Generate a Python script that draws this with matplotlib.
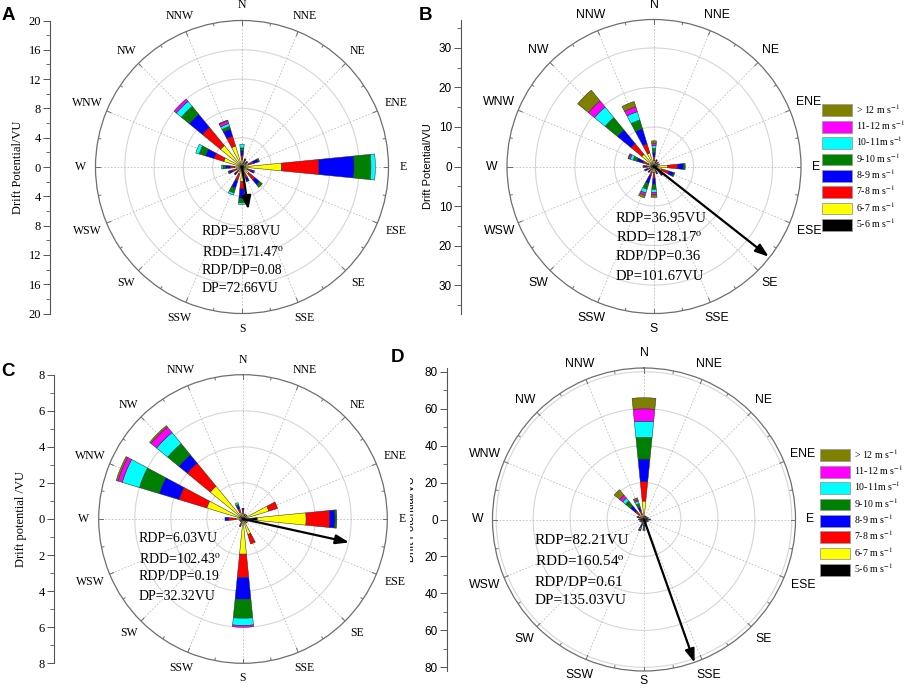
import numpy as np
import matplotlib
matplotlib.use('Agg')
import matplotlib.pyplot as plt
from matplotlib.patches import Patch
from matplotlib.transforms import Bbox

plt.rcParams['mathtext.fontset'] = 'stix'

SERIF = 'Liberation Serif'
SANS = 'Liberation Sans'
W, H = 906, 688

directions = ['N', 'NNE', 'NE', 'ENE', 'E', 'ESE', 'SE', 'SSE',
              'S', 'SSW', 'SW', 'WSW', 'W', 'WNW', 'NW', 'NNW']
classes = ['5-6 m s$^{-1}$', '6-7 m s$^{-1}$', '7-8 m s$^{-1}$', '8-9 m s$^{-1}$',
           '9-10 m s$^{-1}$', '10-11m s$^{-1}$', '11-12 m s$^{-1}$', '> 12 m s$^{-1}$']
class_colors = ['#000000', '#ffff00', '#ff0000', '#0000ff',
                '#008000', '#00ffff', '#ff00ff', '#808000']

# cumulative drift potential (VU) at the outer edge of each speed class,
# one row per direction, columns follow `classes`
dp_a = [[0.3, 1.0, 1.6, 2.2, 2.6, 3.1, 3.1, 3.1],
        [0.3, 0.6, 0.9, 1.1, 1.2, 1.2, 1.2, 1.2],
        [0.3, 0.6, 0.8, 1.0, 1.0, 1.0, 1.0, 1.0],
        [0.3, 0.9, 1.6, 2.3, 2.5, 2.5, 2.5, 2.5],
        [0.5, 5.4, 10.5, 15.3, 17.6, 18.2, 18.2, 18.2],
        [0.3, 0.8, 1.3, 1.7, 1.8, 1.8, 1.8, 1.8],
        [0.3, 1.2, 2.3, 3.1, 3.6, 3.6, 3.6, 3.6],
        [0.3, 0.8, 1.5, 2.0, 2.1, 2.1, 2.1, 2.1],
        [0.3, 2.0, 3.0, 4.3, 4.9, 5.1, 5.1, 5.1],
        [0.3, 1.0, 2.0, 3.0, 3.7, 4.0, 4.0, 4.0],
        [0.3, 0.7, 1.1, 1.4, 1.4, 1.4, 1.4, 1.4],
        [0.3, 0.8, 1.4, 1.8, 2.0, 2.0, 2.0, 2.0],
        [0.3, 1.0, 1.6, 2.2, 2.6, 2.8, 2.8, 2.8],
        [0.3, 2.6, 4.0, 5.2, 6.1, 6.6, 6.6, 6.6],
        [0.3, 3.8, 7.0, 9.3, 10.7, 11.6, 12.0, 12.0],
        [0.3, 3.0, 4.4, 5.4, 5.8, 6.2, 6.6, 6.7]]

dp_b = [[0.5, 1.5, 2.5, 3.5, 4.5, 5.3, 5.8, 6.5],
        [0.5, 1.0, 1.5, 1.8, 1.8, 1.8, 1.8, 1.8],
        [0.5, 1.0, 1.5, 1.5, 1.5, 1.5, 1.5, 1.5],
        [0.5, 1.0, 1.5, 1.5, 1.5, 1.5, 1.5, 1.5],
        [0.5, 3.5, 6.0, 7.4, 7.9, 7.9, 7.9, 7.9],
        [0.5, 2.0, 4.0, 5.2, 5.5, 5.5, 5.5, 5.5],
        [0.5, 1.5, 2.5, 3.0, 3.0, 3.0, 3.0, 3.0],
        [0.5, 1.0, 1.5, 2.0, 2.0, 2.0, 2.0, 2.0],
        [0.5, 1.5, 3.0, 4.5, 5.8, 6.6, 7.2, 7.8],
        [0.5, 1.5, 2.5, 4.5, 6.0, 7.0, 7.6, 8.3],
        [0.5, 1.0, 1.5, 2.0, 2.0, 2.0, 2.0, 2.0],
        [0.5, 1.2, 1.8, 2.3, 2.5, 2.5, 2.5, 2.5],
        [0.5, 1.5, 2.0, 2.5, 2.8, 2.8, 2.8, 2.8],
        [0.5, 1.5, 3.0, 4.5, 5.5, 6.3, 6.7, 6.9],
        [0.5, 4.0, 7.5, 12.0, 16.0, 19.5, 21.5, 25.0],
        [0.5, 3.6, 6.0, 10.0, 12.3, 14.5, 15.8, 17.2]]

dp_c = [[0.1, 0.3, 0.5, 0.6, 0.6, 0.6, 0.6, 0.6],
        [0.1, 0.2, 0.3, 0.3, 0.3, 0.3, 0.3, 0.3],
        [0.1, 0.2, 0.3, 0.3, 0.3, 0.3, 0.3, 0.3],
        [0.1, 1.5, 2.0, 2.0, 2.0, 2.0, 2.0, 2.0],
        [0.8, 3.5, 4.8, 5.1, 5.2, 5.2, 5.2, 5.2],
        [0.1, 0.2, 0.3, 0.3, 0.3, 0.3, 0.3, 0.3],
        [0.1, 0.2, 0.3, 0.3, 0.3, 0.3, 0.3, 0.3],
        [0.1, 0.9, 1.45, 1.45, 1.45, 1.45, 1.45, 1.45],
        [0.1, 1.95, 3.25, 4.45, 5.5, 5.9, 6.0, 6.0],
        [0.1, 0.2, 0.35, 0.45, 0.45, 0.45, 0.45, 0.45],
        [0.1, 0.15, 0.2, 0.2, 0.2, 0.2, 0.2, 0.2],
        [0.1, 0.15, 0.2, 0.2, 0.2, 0.2, 0.2, 0.2],
        [0.1, 0.4, 0.8, 1.0, 1.0, 1.0, 1.0, 1.0],
        [0.2, 2.1, 3.7, 4.85, 6.0, 7.0, 7.25, 7.35],
        [0.2, 2.35, 4.0, 4.6, 5.4, 6.2, 6.6, 6.7],
        [0.1, 0.4, 0.6, 0.75, 0.85, 0.95, 0.95, 0.95]]

dp_d = [[1.8, 10.0, 20.5, 32.7, 44.5, 53.2, 59.9, 65.9],
        [1.0, 1.5, 2.0, 2.0, 2.0, 2.0, 2.0, 2.0],
        [1.0, 1.5, 2.0, 2.0, 2.0, 2.0, 2.0, 2.0],
        [1.0, 1.5, 2.0, 2.5, 2.5, 2.5, 2.5, 2.5],
        [1.0, 2.0, 3.0, 3.5, 3.5, 3.5, 3.5, 3.5],
        [1.0, 1.5, 2.0, 2.5, 2.5, 2.5, 2.5, 2.5],
        [1.0, 1.5, 2.0, 2.0, 2.0, 2.0, 2.0, 2.0],
        [1.0, 1.5, 2.0, 2.5, 2.5, 2.5, 2.5, 2.5],
        [1.0, 2.0, 3.0, 4.0, 5.0, 5.5, 6.0, 6.0],
        [1.0, 2.0, 3.0, 4.0, 5.0, 5.7, 6.2, 6.5],
        [1.0, 1.5, 2.0, 2.0, 2.0, 2.0, 2.0, 2.0],
        [1.0, 1.5, 2.0, 2.5, 2.5, 2.5, 2.5, 2.5],
        [1.0, 1.5, 2.0, 2.5, 3.0, 3.0, 3.0, 3.0],
        [1.0, 1.5, 2.5, 3.5, 4.0, 4.0, 4.0, 4.0],
        [1.0, 3.5, 6.0, 9.5, 13.0, 15.0, 17.0, 20.9],
        [1.0, 3.0, 5.0, 7.0, 9.0, 10.5, 11.3, 12.3]]

rdp = [5.88, 36.95, 6.03, 82.21]
rdd = [171.47, 128.17, 102.43, 160.54]
rdp_dp = [0.08, 0.36, 0.19, 0.61]
dp_total = [72.66, 101.67, 32.32, 135.03]

panels = [
    dict(data=dp_a, letter='A', center=(242, 167), rpx=146.5, rmax=20, rings=[4, 8, 12, 16],
         step=4, minor=2, axis_x=50, font=SERIF, dsize=8.5, tsize=9,
         ylabel='Drift Potential/VU', ylabel_x=18, letter_xy=(8, 15),
         note_x=202, note_y=[232, 252, 271, 289], note_size=10, legend=None),
    dict(data=dp_b, letter='B', center=(654, 166.5), rpx=147, rmax=37.2, rings=[10, 20, 30],
         step=10, minor=5, axis_x=461, font=SANS, dsize=8.8, tsize=8.5,
         ylabel='Drift Potential/VU', ylabel_x=428, letter_xy=(426, 15),
         note_x=616, note_y=[218, 238, 257, 276], note_size=10.5, legend=(822, 102)),
    dict(data=dp_c, letter='C', center=(243, 519), rpx=144.3, rmax=8, rings=[2, 4, 6],
         step=2, minor=1, axis_x=54, font=SERIF, dsize=8.5, tsize=9,
         ylabel='Drift potential /VU', ylabel_x=21, letter_xy=(8, 372),
         note_x=139, note_y=[538, 559, 577, 596], note_size=10, legend=None),
    dict(data=dp_d, letter='D', center=(644, 519.5), rpx=151.5, rmax=82, rings=[20, 40, 60, 80],
         step=20, minor=10, axis_x=447, font=SANS, dsize=8.8, tsize=8.5,
         ylabel='Drift Potential/VU', ylabel_x=411, letter_xy=(398, 357),
         note_x=535, note_y=[541, 562, 582, 601], note_size=11, legend=(820, 447)),
]

fig = plt.figure(figsize=(W / 100, H / 100), dpi=100)


def fx(x):
    return x / W


def fy(y):
    return 1 - y / H


def draw_panel(k, p):
    cx, cy = p['center']
    rpx, rmax = p['rpx'], p['rmax']
    ax = fig.add_axes([fx(cx - rpx), fy(cy + rpx), 2 * rpx / W, 2 * rpx / H], projection='polar')
    ax.set_theta_zero_location('N')
    ax.set_theta_direction(-1)
    ax.set_ylim(0, rmax)
    ax.set_xticks([])
    ax.set_yticks([])
    ax.grid(False)
    ax.patch.set_alpha(0)
    ax.spines['polar'].set_color('#6e6e6e')
    ax.spines['polar'].set_linewidth(0.9)

    # rings, dotted spokes and the small ticks on the rim
    th = np.linspace(0, 2 * np.pi, 400)
    for r in p['rings']:
        ax.plot(th, np.full_like(th, r), color='#d6d6d6', lw=0.8, zorder=1)
    ang = np.deg2rad(np.arange(16) * 22.5)
    for a in ang:
        ax.plot([a, a], [0, rmax], color='#bdbdbd', lw=0.6, ls=(0, (2, 2)), zorder=1)
    per_px = rmax / rpx
    for i in range(32):
        a = np.deg2rad(i * 11.25)
        L = 4.5 if i % 2 == 0 else 2.5
        ax.plot([a, a], [rmax - L * per_px, rmax], color='#6e6e6e', lw=0.7, zorder=2)

    # stacked speed classes
    cum = np.array(p['data'])
    bottom = np.zeros(16)
    for j in range(len(classes)):
        height = cum[:, j] - bottom
        keep = height > 1e-9
        ax.bar(ang[keep], height[keep], width=np.pi / 16, bottom=bottom[keep],
               color=class_colors[j], edgecolor='#2a2a2a', linewidth=0.35, zorder=3)
        bottom = cum[:, j]

    # resultant drift arrow
    ax.annotate('', xy=(np.deg2rad(rdd[k]), rdp[k]), xytext=(0, 0),
                arrowprops=dict(arrowstyle='-|>,head_length=0.8,head_width=0.28',
                                color='k', lw=1.6, shrinkA=0, shrinkB=0),
                annotation_clip=False, zorder=6)

    for i, name in enumerate(directions):
        a = ang[i]
        d = 15 + 3 * (len(name) - 1) * abs(np.sin(a))
        # keep the bottom label inside the figure
        if np.cos(a) < -0.99:
            d = min(d, H - 7 - cy - rpx)
        ax.text(a, rmax * (1 + d / rpx), name, ha='center', va='center',
                family=p['font'], fontsize=p['dsize'], clip_on=False)

    # vertical drift potential scale
    sx = fig.add_axes([fx(p['axis_x']), fy(cy + rpx), 0.0001, 2 * rpx / H])
    sx.set_ylim(-rmax, rmax)
    sx.patch.set_alpha(0)
    for s in ['top', 'right', 'bottom']:
        sx.spines[s].set_visible(False)
    sx.spines['left'].set_color('#555555')
    sx.spines['left'].set_linewidth(0.8)
    sx.set_xticks([])
    n = int(rmax // p['step'])
    major = np.arange(-n, n + 1) * p['step']
    m = int(rmax // p['minor'])
    minor = np.arange(-m, m + 1) * p['minor']
    sx.set_yticks(major)
    sx.set_yticklabels([f'{abs(v):g}' for v in major], family=p['font'], fontsize=p['tsize'])
    sx.set_yticks(minor, minor=True)
    sx.tick_params(axis='y', which='major', length=5, width=0.7, color='#555555', pad=1.5)
    sx.tick_params(axis='y', which='minor', length=3, width=0.6, color='#555555')

    yl = fig.text(fx(p['ylabel_x']), fy(cy), p['ylabel'], rotation=90,
                  ha='center', va='center', family=p['font'],
                  fontsize=9 if p['font'] == SERIF else 8)
    if k == 3:
        # in the original this label is half hidden behind panel C
        yl.set_clip_box(Bbox.from_extents(409.5, 0, W, H))
        yl.set_clip_on(True)

    fig.text(fx(p['letter_xy'][0]), fy(p['letter_xy'][1]), p['letter'], ha='center', va='center',
             family=SANS, fontweight='bold', fontsize=13.5)

    notes = [f'RDP={rdp[k]:.2f}VU', f'RDD={rdd[k]:.2f}$^{{\\rm o}}$',
             f'RDP/DP={rdp_dp[k]:.2f}', f'DP={dp_total[k]:.2f}VU']
    for line, yy in zip(notes, p['note_y']):
        fig.text(fx(p['note_x']), fy(yy), line, ha='left', va='center',
                 family=SERIF, fontsize=p['note_size'])

    if p['legend'] is not None:
        handles = [Patch(facecolor=c, edgecolor='#9a9a9a', linewidth=0.6) for c in class_colors]
        lx, ly = p['legend']
        fig.legend(handles[::-1], classes[::-1], loc='upper left',
                   bbox_to_anchor=(fx(lx), fy(ly)), frameon=False,
                   prop=dict(family=SERIF, size=7.1), handlelength=3.0, handleheight=1.45,
                   labelspacing=0.22, handletextpad=0.45, borderpad=0, borderaxespad=0)


for k, p in enumerate(panels):
    draw_panel(k, p)

fig.savefig('out.png', dpi=100)
